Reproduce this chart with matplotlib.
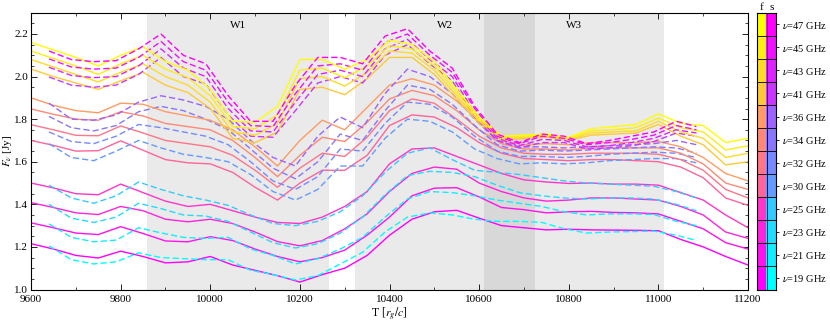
import matplotlib
matplotlib.use('Agg')
import matplotlib.pyplot as plt
import numpy as np

plt.rcParams['font.family'] = ['Liberation Serif', 'DejaVu Serif']
plt.rcParams['mathtext.fontset'] = 'stix'

# Frequências (GHz) de cada par de curvas
freqs = [19, 21, 23, 25, 30, 32, 34, 36, 41, 43, 45, 47]

# Eixo do tempo das curvas contínuas (f)
tempo_f = [9600, 9650, 9700, 9750, 9800, 9850, 9900, 9950, 10000, 10050,
           10100, 10150, 10200, 10250, 10300, 10350, 10400, 10450, 10500,
           10550, 10600, 10650, 10700, 10750, 10800, 10850, 10900, 10950,
           11000, 11050, 11100, 11150, 11200]

# Eixo do tempo das curvas tracejadas (s)
tempo_s = [9640, 9690, 9740, 9790, 9840, 9890, 9940, 9990, 10040, 10090,
           10140, 10190, 10240, 10290, 10340, 10390, 10440, 10490, 10540,
           10590, 10640, 10690, 10740, 10790, 10840, 10890, 10940, 10990,
           11040, 11085]

# Fluxos das curvas contínuas [Jy]
f19 = [1.215, 1.19, 1.16, 1.148, 1.18, 1.155, 1.125, 1.13, 1.155, 1.115,
       1.09, 1.065, 1.035, 1.07, 1.10, 1.16, 1.255, 1.33, 1.365, 1.372,
       1.335, 1.30, 1.29, 1.28, 1.283, 1.28, 1.279, 1.278, 1.276, 1.235,
       1.20, 1.155, 1.115]
f21 = [1.313, 1.29, 1.265, 1.258, 1.295, 1.263, 1.228, 1.224, 1.248, 1.23,
       1.19, 1.155, 1.13, 1.15, 1.185, 1.255, 1.34, 1.44, 1.476, 1.478,
       1.435, 1.385, 1.375, 1.36, 1.365, 1.367, 1.362, 1.36, 1.355, 1.32,
       1.285, 1.22, 1.19]
f23 = [1.408, 1.385, 1.36, 1.352, 1.39, 1.37, 1.33, 1.318, 1.33, 1.31,
       1.27, 1.225, 1.205, 1.23, 1.285, 1.355, 1.46, 1.545, 1.575, 1.565,
       1.50, 1.46, 1.43, 1.415, 1.42, 1.43, 1.43, 1.425, 1.42, 1.39,
       1.35, 1.27, 1.24]
f25 = [1.50, 1.477, 1.45, 1.445, 1.495, 1.455, 1.415, 1.39, 1.40, 1.37,
       1.34, 1.315, 1.31, 1.34, 1.39, 1.46, 1.59, 1.66, 1.665, 1.625,
       1.585, 1.545, 1.515, 1.505, 1.498, 1.50, 1.495, 1.495, 1.49, 1.455,
       1.42, 1.35, 1.29]
f30 = [1.70, 1.677, 1.65, 1.652, 1.698, 1.654, 1.61, 1.595, 1.59, 1.55,
       1.48, 1.42, 1.50, 1.56, 1.56, 1.63, 1.77, 1.82, 1.81, 1.76,
       1.69, 1.64, 1.615, 1.61, 1.605, 1.61, 1.61, 1.605, 1.60, 1.575,
       1.525, 1.43, 1.395]
f32 = [1.774, 1.75, 1.724, 1.722, 1.768, 1.735, 1.70, 1.685, 1.67, 1.63,
       1.56, 1.48, 1.57, 1.64, 1.625, 1.715, 1.84, 1.895, 1.875, 1.80,
       1.72, 1.665, 1.64, 1.635, 1.635, 1.64, 1.64, 1.64, 1.635, 1.61,
       1.56, 1.47, 1.43]
f34 = [1.848, 1.823, 1.80, 1.795, 1.835, 1.815, 1.78, 1.765, 1.75, 1.70,
       1.62, 1.53, 1.63, 1.715, 1.695, 1.785, 1.895, 1.935, 1.91, 1.84,
       1.75, 1.685, 1.66, 1.66, 1.655, 1.665, 1.665, 1.665, 1.665, 1.64,
       1.59, 1.50, 1.47]
f36 = [1.90, 1.865, 1.84, 1.83, 1.875, 1.87, 1.835, 1.815, 1.795, 1.75,
       1.67, 1.58, 1.70, 1.795, 1.75, 1.855, 1.96, 1.99, 1.96, 1.885,
       1.79, 1.70, 1.68, 1.685, 1.68, 1.69, 1.69, 1.69, 1.695, 1.67,
       1.62, 1.545, 1.51]
f41 = [2.035, 2.00, 1.97, 1.94, 1.98, 2.02, 1.96, 1.925, 1.85, 1.71,
       1.69, 1.74, 1.94, 1.95, 1.915, 1.99, 2.09, 2.09, 2.01, 1.895,
       1.78, 1.70, 1.71, 1.715, 1.70, 1.725, 1.73, 1.735, 1.775, 1.72,
       1.68, 1.585, 1.60]
f43 = [2.08, 2.045, 2.01, 1.975, 2.02, 2.06, 2.00, 1.96, 1.88, 1.74,
       1.725, 1.78, 1.99, 2.00, 1.955, 2.02, 2.12, 2.11, 2.03, 1.91,
       1.79, 1.71, 1.715, 1.72, 1.705, 1.735, 1.74, 1.745, 1.79, 1.74,
       1.71, 1.62, 1.64]
f45 = [2.12, 2.085, 2.05, 2.01, 2.06, 2.10, 2.035, 1.995, 1.91, 1.765,
       1.755, 1.82, 2.03, 2.04, 1.995, 2.05, 2.145, 2.13, 2.05, 1.925,
       1.80, 1.715, 1.72, 1.725, 1.71, 1.745, 1.75, 1.76, 1.805, 1.76,
       1.74, 1.655, 1.675]
f47 = [2.16, 2.125, 2.09, 2.05, 2.10, 2.14, 2.07, 2.03, 1.94, 1.79,
       1.785, 1.86, 2.08, 2.08, 2.035, 2.08, 2.17, 2.15, 2.07, 1.94,
       1.81, 1.72, 1.725, 1.73, 1.715, 1.755, 1.765, 1.775, 1.825, 1.78,
       1.77, 1.69, 1.71]

# Fluxos das curvas tracejadas [Jy]
s19 = [1.205, 1.14, 1.12, 1.13, 1.172, 1.15, 1.145, 1.14, 1.14, 1.09,
       1.07, 1.045, 1.065, 1.12, 1.175, 1.27, 1.34, 1.36, 1.35, 1.33,
       1.32, 1.32, 1.315, 1.285, 1.265, 1.27, 1.272, 1.274, 1.255, 1.23]
s21 = [1.308, 1.245, 1.224, 1.232, 1.29, 1.266, 1.245, 1.24, 1.245, 1.19,
       1.16, 1.12, 1.145, 1.19, 1.245, 1.34, 1.425, 1.46, 1.455, 1.44,
       1.42, 1.405, 1.39, 1.365, 1.35, 1.355, 1.355, 1.352, 1.32, 1.30]
s23 = [1.40, 1.335, 1.315, 1.34, 1.405, 1.38, 1.35, 1.345, 1.32, 1.27,
       1.22, 1.195, 1.215, 1.265, 1.34, 1.445, 1.535, 1.555, 1.55, 1.53,
       1.49, 1.455, 1.44, 1.43, 1.425, 1.43, 1.43, 1.425, 1.40, 1.37]
s25 = [1.49, 1.43, 1.405, 1.44, 1.505, 1.47, 1.44, 1.42, 1.395, 1.35,
       1.31, 1.30, 1.32, 1.365, 1.44, 1.55, 1.64, 1.665, 1.61, 1.56,
       1.55, 1.54, 1.525, 1.51, 1.50, 1.495, 1.49, 1.485, 1.46, 1.43]
s30 = [1.685, 1.62, 1.605, 1.65, 1.70, 1.665, 1.635, 1.62, 1.60, 1.54,
       1.46, 1.42, 1.47, 1.58, 1.58, 1.71, 1.80, 1.79, 1.74, 1.66,
       1.615, 1.59, 1.595, 1.59, 1.595, 1.605, 1.61, 1.615, 1.615, 1.595]
s32 = [1.74, 1.695, 1.685, 1.72, 1.775, 1.76, 1.74, 1.72, 1.68, 1.60,
       1.51, 1.47, 1.53, 1.66, 1.65, 1.78, 1.88, 1.87, 1.81, 1.72,
       1.65, 1.625, 1.625, 1.62, 1.625, 1.635, 1.64, 1.645, 1.64, 1.62]
s34 = [1.813, 1.76, 1.745, 1.77, 1.835, 1.86, 1.84, 1.80, 1.75, 1.66,
       1.57, 1.52, 1.60, 1.73, 1.70, 1.84, 1.96, 1.94, 1.87, 1.77,
       1.68, 1.65, 1.655, 1.65, 1.655, 1.66, 1.665, 1.67, 1.665, 1.64]
s36 = [1.875, 1.80, 1.795, 1.82, 1.88, 1.91, 1.89, 1.86, 1.80, 1.70,
       1.62, 1.58, 1.72, 1.81, 1.76, 1.92, 2.035, 2.00, 1.92, 1.80,
       1.70, 1.67, 1.67, 1.665, 1.67, 1.675, 1.68, 1.685, 1.70, 1.68]
s41 = [1.998, 1.96, 1.95, 1.96, 2.01, 2.09, 2.00, 1.965, 1.82, 1.72,
       1.715, 1.84, 1.97, 2.00, 1.97, 2.10, 2.15, 2.06, 1.98, 1.81,
       1.70, 1.665, 1.69, 1.69, 1.66, 1.665, 1.675, 1.695, 1.735, 1.72]
s43 = [2.044, 2.005, 1.995, 2.00, 2.05, 2.13, 2.04, 2.00, 1.85, 1.745,
       1.74, 1.88, 2.01, 2.03, 2.00, 2.13, 2.175, 2.08, 2.00, 1.83,
       1.71, 1.675, 1.705, 1.70, 1.67, 1.675, 1.69, 1.71, 1.75, 1.735]
s45 = [2.083, 2.045, 2.035, 2.04, 2.09, 2.165, 2.07, 2.03, 1.88, 1.77,
       1.765, 1.92, 2.05, 2.06, 2.03, 2.16, 2.20, 2.10, 2.02, 1.85,
       1.72, 1.685, 1.72, 1.71, 1.68, 1.69, 1.705, 1.725, 1.77, 1.75]
s47 = [2.12, 2.08, 2.07, 2.075, 2.13, 2.20, 2.10, 2.06, 1.91, 1.79,
       1.79, 1.96, 2.09, 2.09, 2.06, 2.19, 2.225, 2.12, 2.04, 1.86,
       1.73, 1.69, 1.73, 1.72, 1.685, 1.70, 1.72, 1.74, 1.79, 1.765]

curvas_f = [f19, f21, f23, f25, f30, f32, f34, f36, f41, f43, f45, f47]
curvas_s = [s19, s21, s23, s25, s30, s32, s34, s36, s41, s43, s45, s47]

# Janelas sombreadas (início, fim, rótulo)
janelas = [(9859, 10265, 'W1'), (10323, 10725, 'W2'), (10611, 11013, 'W3')]


def definir_rotulos(ax, eixo_x, eixo_y):
    ax.set_xlabel(eixo_x, fontsize=8.5, labelpad=1)
    ax.set_ylabel(eixo_y, fontsize=8)
    ax.yaxis.set_label_coords(-0.0235, 0.5)
    return None


fig = plt.figure(figsize=(8.3, 3.23), dpi=100)
ax = fig.add_axes([31 / 830, 1 - 289.5 / 323, 717 / 830, 276.8 / 323])

# Cores: spring para f, cool para s (normalizadas pela frequência)
norma = [(f - 19) / 28 for f in freqs]
cores_f = [plt.cm.spring(n) for n in norma]
cores_s = [plt.cm.cool(n) for n in norma]

# Janelas sombreadas
for ini, fim, rot in janelas:
    ax.axvspan(ini, fim, color='0.45', alpha=0.15, lw=0, zorder=0)
    ax.text((ini + fim) / 2, 2.24, rot, ha='center', va='center', fontsize=8)

# Plotagem das curvas
for i in range(len(freqs)):
    ax.plot(tempo_f, curvas_f[i], color=cores_f[i], lw=1.0, zorder=2)
    ax.plot(tempo_s, curvas_s[i], color=cores_s[i], lw=1.0,
            dashes=(4.5, 2.2), zorder=2)

ax.set_xlim(9600, 11200)
ax.set_ylim(1.0, 2.3)
ax.set_xticks(np.arange(9600, 11201, 200))
ax.set_xticks(np.arange(9600, 11201, 100), minor=True)
ax.set_yticks(np.arange(1.0, 2.21, 0.2))
ax.set_yticks(np.arange(1.0, 2.31, 0.05), minor=True)
ax.set_yticklabels(['%.1f' % v for v in np.arange(1.0, 2.21, 0.2)])
ax.tick_params(which='both', direction='in', top=True, right=True,
               labelsize=8)
ax.tick_params(axis='x', pad=4)
ax.tick_params(axis='y', pad=2)
ax.tick_params(which='major', length=4, width=0.6)
ax.tick_params(which='minor', length=2, width=0.5)
for s in ax.spines.values():
    s.set_linewidth(0.8)
definir_rotulos(ax, 'T [$r_g/c$]', '$F_\\nu$ [Jy]')

# Barra de cores com duas colunas (f e s)
cb = fig.add_axes([757.3 / 830, 1 - 289.5 / 323, 18.7 / 830, 276.8 / 323])
rgb = np.zeros((len(freqs), 2, 4))
for i in range(len(freqs)):
    rgb[i, 0] = cores_f[i]
    rgb[i, 1] = cores_s[i]
cb.imshow(rgb, aspect='auto', origin='lower', extent=[0, 2, 0, len(freqs)],
          interpolation='nearest')
for k in range(1, len(freqs)):
    cb.axhline(k, color='k', lw=0.6)
cb.axvline(1, color='k', lw=0.6)
cb.set_xlim(0, 2)
cb.set_ylim(0, len(freqs))
cb.set_xticks([])
cb.yaxis.tick_right()
cb.set_yticks(np.arange(len(freqs)) + 0.5)
cb.set_yticklabels(['$\\nu$=%d GHz' % f for f in freqs])
cb.tick_params(axis='y', direction='out', length=2.5, width=0.6,
               labelsize=7.5, pad=2)
cb.text(0.5, len(freqs) + 0.05, 'f', ha='center', va='bottom', fontsize=8)
cb.text(1.5, len(freqs) + 0.05, 's', ha='center', va='bottom', fontsize=8)
for s in cb.spines.values():
    s.set_linewidth(0.8)

fig.savefig('out.png', dpi=100)
